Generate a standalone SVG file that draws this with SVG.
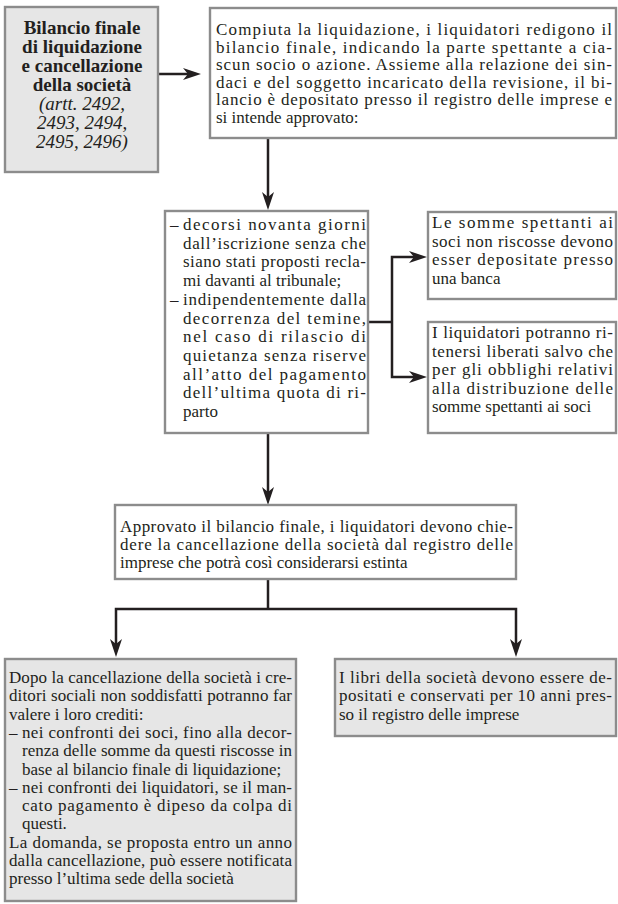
<svg xmlns="http://www.w3.org/2000/svg" width="618" height="904" viewBox="0 0 618 904">
<style>
.box{stroke:#8c8c8c;stroke-width:2.4;fill:#ffffff}
.gray{fill:#e6e6e6}
.t{font-family:"Liberation Serif","Times New Roman",serif;font-size:17px;fill:#231f20}
.tb{font-family:"Liberation Serif","Times New Roman",serif;font-size:19px;font-weight:bold;fill:#231f20;text-anchor:middle}
.ti{font-family:"Liberation Serif","Times New Roman",serif;font-size:19px;font-style:italic;fill:#231f20;text-anchor:middle}
.conn path{fill:none;stroke:#231f20;stroke-width:2.5;stroke-linejoin:miter}
</style>
<defs>
<marker id="arr" viewBox="0 0 18 12" refX="12" refY="6" markerWidth="18" markerHeight="12" markerUnits="userSpaceOnUse" orient="auto">
<path d="M0,0 L18,6 L0,12 L5,6 z" fill="#231f20"/>
</marker>
</defs>

<g class="conn">
<path d="M158,74 H195" marker-end="url(#arr)"/>
<path d="M268,138 V204" marker-end="url(#arr)"/>
<path d="M368,322 H392"/>
<path d="M392,322 V257 H421" marker-end="url(#arr)"/>
<path d="M392,322 V377 H421" marker-end="url(#arr)"/>
<path d="M268,433 V499" marker-end="url(#arr)"/>
<path d="M268,579 V609"/>
<path d="M268,609 H116 V651" marker-end="url(#arr)"/>
<path d="M268,609 H516 V651" marker-end="url(#arr)"/>
</g>

<g id="title">
<rect class="box gray" x="5" y="7" width="153" height="165"/>
<text class="tb" x="82" y="34">Bilancio finale</text>
<text class="tb" x="82" y="53">di liquidazione</text>
<text class="tb" x="82" y="72">e cancellazione</text>
<text class="tb" x="82" y="91">della società</text>
<text class="ti" x="82" y="110">(artt. 2492,</text>
<text class="ti" x="82" y="129">2493, 2494,</text>
<text class="ti" x="82" y="148">2495, 2496)</text>
</g>

<g id="bilancio">
<rect class="box" x="210" y="8" width="406" height="130"/>
<text class="t" x="216" y="35" textLength="396" lengthAdjust="spacing">Compiuta la liquidazione, i liquidatori redigono il</text>
<text class="t" x="216" y="52.6" textLength="396" lengthAdjust="spacing">bilancio finale, indicando la parte spettante a cia-</text>
<text class="t" x="216" y="70.2" textLength="396" lengthAdjust="spacing">scun socio o azione. Assieme alla relazione dei sin-</text>
<text class="t" x="216" y="87.8" textLength="396" lengthAdjust="spacing">daci e del soggetto incaricato della revisione, il bi-</text>
<text class="t" x="216" y="105.4" textLength="396" lengthAdjust="spacing">lancio è depositato presso il registro delle imprese e</text>
<text class="t" x="216" y="123">si intende approvato:</text>
</g>

<g id="condizioni">
<rect class="box" x="165" y="211" width="203" height="222"/>
<text class="t" x="170" y="230">–</text>
<text class="t" x="183" y="230" textLength="183" lengthAdjust="spacing">decorsi novanta giorni</text>
<text class="t" x="183" y="248.7" textLength="183" lengthAdjust="spacing">dall’iscrizione senza che</text>
<text class="t" x="183" y="267.4" textLength="183" lengthAdjust="spacing">siano stati proposti recla-</text>
<text class="t" x="183" y="286.1">mi davanti al tribunale;</text>
<text class="t" x="170" y="304.8">–</text>
<text class="t" x="183" y="304.8" textLength="183" lengthAdjust="spacing">indipendentemente dalla</text>
<text class="t" x="183" y="323.5" textLength="183" lengthAdjust="spacing">decorrenza del temine,</text>
<text class="t" x="183" y="342.2" textLength="183" lengthAdjust="spacing">nel caso di rilascio di</text>
<text class="t" x="183" y="360.9" textLength="183" lengthAdjust="spacing">quietanza senza riserve</text>
<text class="t" x="183" y="379.6" textLength="183" lengthAdjust="spacing">all’atto del pagamento</text>
<text class="t" x="183" y="398.3" textLength="183" lengthAdjust="spacing">dell’ultima quota di ri-</text>
<text class="t" x="183" y="417">parto</text>
</g>

<g id="somme">
<rect class="box" x="428" y="212" width="188" height="87"/>
<text class="t" x="432" y="228" textLength="181" lengthAdjust="spacing">Le somme spettanti ai</text>
<text class="t" x="432" y="246.5" textLength="181" lengthAdjust="spacing">soci non riscosse devono</text>
<text class="t" x="432" y="265" textLength="181" lengthAdjust="spacing">esser depositate presso</text>
<text class="t" x="432" y="283.5">una banca</text>
</g>

<g id="liberati">
<rect class="box" x="428" y="322" width="188" height="111"/>
<text class="t" x="432" y="338" textLength="181" lengthAdjust="spacing">I liquidatori potranno ri-</text>
<text class="t" x="432" y="356.5" textLength="181" lengthAdjust="spacing">tenersi liberati salvo che</text>
<text class="t" x="432" y="375" textLength="181" lengthAdjust="spacing">per gli obblighi relativi</text>
<text class="t" x="432" y="393.5" textLength="181" lengthAdjust="spacing">alla distribuzione delle</text>
<text class="t" x="432" y="412">somme spettanti ai soci</text>
</g>

<g id="cancellazione">
<rect class="box" x="115" y="505" width="401" height="74"/>
<text class="t" x="120" y="532" textLength="393" lengthAdjust="spacing">Approvato il bilancio finale, i liquidatori devono chie-</text>
<text class="t" x="120" y="550" textLength="393" lengthAdjust="spacing">dere la cancellazione della società dal registro delle</text>
<text class="t" x="120" y="568">imprese che potrà così considerarsi estinta</text>
</g>

<g id="creditori">
<rect class="box gray" x="5" y="659" width="291" height="242"/>
<text class="t" x="9" y="683" textLength="283" lengthAdjust="spacing">Dopo la cancellazione della società i cre-</text>
<text class="t" x="9" y="701.3" textLength="283" lengthAdjust="spacing">ditori sociali non soddisfatti potranno far</text>
<text class="t" x="9" y="719.6">valere i loro crediti:</text>
<text class="t" x="9" y="737.9">–</text>
<text class="t" x="22" y="737.9" textLength="270" lengthAdjust="spacing">nei confronti dei soci, fino alla decor-</text>
<text class="t" x="22" y="756.2" textLength="270" lengthAdjust="spacing">renza delle somme da questi riscosse in</text>
<text class="t" x="22" y="774.5">base al bilancio finale di liquidazione;</text>
<text class="t" x="9" y="792.8">–</text>
<text class="t" x="22" y="792.8" textLength="270" lengthAdjust="spacing">nei confronti dei liquidatori, se il man-</text>
<text class="t" x="22" y="811.1" textLength="270" lengthAdjust="spacing">cato pagamento è dipeso da colpa di</text>
<text class="t" x="22" y="829.4">questi.</text>
<text class="t" x="9" y="847.7" textLength="283" lengthAdjust="spacing">La domanda, se proposta entro un anno</text>
<text class="t" x="9" y="866" textLength="283" lengthAdjust="spacing">dalla cancellazione, può essere notificata</text>
<text class="t" x="9" y="884.3">presso l’ultima sede della società</text>
</g>

<g id="libri">
<rect class="box gray" x="335" y="659" width="281" height="77"/>
<text class="t" x="339" y="683" textLength="273" lengthAdjust="spacing">I libri della società devono essere de-</text>
<text class="t" x="339" y="701.3" textLength="273" lengthAdjust="spacing">positati e conservati per 10 anni pres-</text>
<text class="t" x="339" y="719.6">so il registro delle imprese</text>
</g>
</svg>
